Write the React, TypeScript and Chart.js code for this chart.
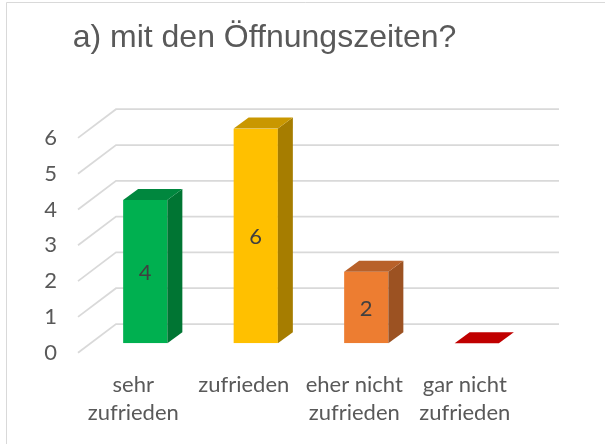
import React, { useEffect, useRef } from "react";
import { Chart, registerables } from "chart.js";

Chart.register(...registerables);

const title = "a) mit den Öffnungszeiten?";
const categories: (string | string[])[] = [
  ["sehr", "zufrieden"],
  "zufrieden",
  ["eher nicht", "zufrieden"],
  ["gar nicht", "zufrieden"],
];
const values = [4, 6, 2, 0];
const frontColors = ["#00B050", "#FFC000", "#ED7D31", "#C00000"];
const topColors = ["#00873E", "#C99700", "#B8612A", "#C00000"];
const sideColors = ["#007533", "#A67D00", "#9C5222", "#8A0000"];
const yTickValues = [0, 1, 2, 3, 4, 5, 6];

const DX = 15;
const DY = -11;
const FONT = "Lato";

const threeD = {
  id: "threeD",
  beforeDraw(chart: any) {
    const ctx = chart.ctx;
    ctx.save();
    ctx.fillStyle = "#ffffff";
    ctx.fillRect(0, 0, chart.width, chart.height);
    ctx.strokeStyle = "#d9d9d9";
    ctx.lineWidth = 1;
    ctx.beginPath();
    ctx.moveTo(6.5, chart.height);
    ctx.lineTo(6.5, 2.5);
    ctx.lineTo(chart.width, 2.5);
    ctx.stroke();
    ctx.restore();
  },
  beforeDatasetsDraw(chart: any) {
    const ctx = chart.ctx;
    const ys = chart.scales.y;
    const area = chart.chartArea;
    const backLeft = area.left + 26;
    const frontLeft = area.left - 12;
    const right = area.right + 27;
    ctx.save();
    ctx.strokeStyle = "#d9d9d9";
    ctx.lineWidth = 1.75;
    yTickValues.forEach((v) => {
      const py = ys.getPixelForValue(v);
      const back = py - 19.3;
      ctx.beginPath();
      ctx.moveTo(frontLeft, py + 9.4);
      ctx.lineTo(backLeft, back);
      ctx.lineTo(right, back);
      ctx.stroke();
    });
    ctx.restore();
  },
  afterDatasetsDraw(chart: any) {
    const ctx = chart.ctx;
    const meta = chart.getDatasetMeta(0);
    ctx.save();
    meta.data.forEach((el: any, i: number) => {
      const { x, y, base, width } = el.getProps(["x", "y", "base", "width"], true);
      const l = x - width / 2;
      const r = x + width / 2;
      // side face
      ctx.fillStyle = sideColors[i];
      ctx.beginPath();
      ctx.moveTo(r, y);
      ctx.lineTo(r + DX, y + DY);
      ctx.lineTo(r + DX, base + DY);
      ctx.lineTo(r, base);
      ctx.closePath();
      ctx.fill();
      // top face
      ctx.fillStyle = topColors[i];
      ctx.beginPath();
      ctx.moveTo(l, y);
      ctx.lineTo(l + DX, y + DY);
      ctx.lineTo(r + DX, y + DY);
      ctx.lineTo(r, y);
      ctx.closePath();
      ctx.fill();
      // data label
      if (values[i] > 0) {
        ctx.fillStyle = "#404040";
        ctx.font = `22px ${FONT}`;
        ctx.textAlign = "center";
        ctx.textBaseline = "middle";
        ctx.fillText(String(values[i]), x, (y + base) / 2 + 1);
      }
    });
    ctx.restore();
  },
  afterDraw(chart: any) {
    const ctx = chart.ctx;
    ctx.save();
    ctx.fillStyle = "#595959";
    ctx.font = "32px 'Liberation Sans', Arial, sans-serif";
    ctx.textAlign = "center";
    ctx.textBaseline = "alphabetic";
    ctx.fillText(title, 264.5, 47);
    ctx.restore();
  },
};

export default function App() {
  const ref = useRef<HTMLCanvasElement | null>(null);
  useEffect(() => {
    if (!ref.current) return;
    const chart = new Chart(ref.current, {
      type: "bar",
      data: {
        labels: categories as any,
        datasets: [
          {
            data: values,
            backgroundColor: frontColors,
            borderWidth: 0,
            categoryPercentage: 0.8,
            barPercentage: 0.5,
          },
        ],
      },
      options: {
        animation: false,
        responsive: false,
        devicePixelRatio: 1,
        layout: { padding: { top: 128.5, right: 73, left: 0, bottom: 0 } },
        plugins: {
          legend: { display: false },
          title: { display: false },
          tooltip: { enabled: false },
        },
        scales: {
          x: {
            grid: { display: false, drawTicks: false },
            border: { display: false },
            ticks: {
              color: "#595959",
              font: { family: FONT, size: 22, lineHeight: "28px" as any },
              padding: 28,
              labelOffset: -12,
              maxRotation: 0,
              autoSkip: false,
            },
            afterFit: (s: any) => {
              s.height = 100.7;
            },
          },
          y: {
            min: 0,
            max: 6,
            grid: { display: false, drawTicks: false },
            border: { display: false },
            ticks: {
              stepSize: 1,
              color: "#595959",
              font: { family: FONT, size: 22 },
              padding: 33,
              labelOffset: 9.4,
            },
            afterFit: (s: any) => {
              s.width = 90;
            },
          },
        },
      },
      plugins: [threeD],
    });
    return () => chart.destroy();
  }, []);
  return (
    <div style={{ position: "fixed", left: 0, top: 0, width: 605, height: 444, background: "#fff" }}>
      <canvas ref={ref} width={605} height={444} style={{ display: "block" }} />
    </div>
  );
}
